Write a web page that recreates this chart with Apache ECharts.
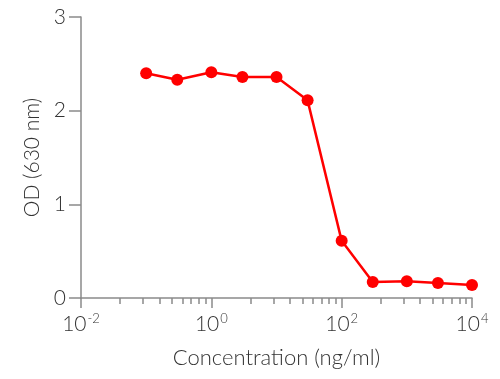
<!DOCTYPE html>
<html>
<head>
<meta charset="utf-8">
<script src="https://cdn.jsdelivr.net/npm/echarts@6/dist/echarts.min.js"></script>
<style>
html,body{margin:0;padding:0;background:#fff;}
#c{width:500px;height:379px;}
</style>
</head>
<body>
<div id="c"></div>
<script>
// Data
const concentrations = [0.1, 0.3, 1, 3, 10, 30, 100, 300, 1000, 3000, 10000];
const odValues = [2.40, 2.33, 2.41, 2.36, 2.36, 2.11, 0.61, 0.17, 0.18, 0.16, 0.14];
const xMajorTicks = [0.01, 1, 100, 10000];
const yTicks = [0, 1, 2, 3];
const minorFactors = [2, 3, 4, 5, 6, 7, 8, 9];

// minor ticks as drawn in the reference (log spacing within each 2-decade span)
const xMinorTicks = [];
for (let i = 0; i < xMajorTicks.length - 1; i++) {
  minorFactors.forEach(k => xMinorTicks.push(xMajorTicks[i] * Math.pow(xMajorTicks[i + 1] / xMajorTicks[i], Math.log10(k))));
}

const FONT = 'Lato';
const TXT = '#333333';
const AX = '#8a8a8a';

const chart = echarts.init(document.getElementById('c'));
chart.setOption({
  animation: false,
  grid: { left: 81, right: 28, top: 17, bottom: 81 },
  xAxis: [{
    type: 'log',
    logBase: 10,
    min: 0.01,
    max: 10000,
    name: 'Concentration (ng/ml)',
    nameLocation: 'middle',
    nameGap: 49,
    nameTextStyle: { fontFamily: FONT, fontWeight: 300, fontSize: 22, color: TXT },
    axisLine: { show: true, lineStyle: { color: AX, width: 1.5 } },
    axisTick: { show: true, length: 10, customValues: xMajorTicks, lineStyle: { color: AX, width: 1.5 } },
    minorTick: { show: false },
    splitLine: { show: false },
    axisLabel: {
      customValues: xMajorTicks,
      margin: 14,
      formatter: function (v) {
        const e = Math.round(Math.log10(v));
        return '{b|10}{e|' + e + '}';
      },
      rich: {
        b: { fontFamily: FONT, fontWeight: 300, fontSize: 21, color: TXT },
        e: { fontFamily: FONT, fontWeight: 300, fontSize: 13, color: TXT, padding: [0, 0, 11, 1] }
      }
    }
  }, {
    type: 'log',
    logBase: 10,
    min: 0.01,
    max: 10000,
    position: 'bottom',
    axisLine: { show: false },
    axisTick: { show: true, length: 6, customValues: xMinorTicks, lineStyle: { color: AX, width: 1.5 } },
    axisLabel: { show: false },
    splitLine: { show: false }
  }],
  yAxis: {
    type: 'value',
    min: 0,
    max: 3,
    interval: 1,
    name: 'OD (630 nm)',
    nameLocation: 'middle',
    nameGap: 38,
    nameTextStyle: { fontFamily: FONT, fontWeight: 300, fontSize: 21, color: TXT },
    axisLine: { show: true, lineStyle: { color: AX, width: 1.5 } },
    axisTick: { show: true, length: 12, lineStyle: { color: AX, width: 1.5 } },
    splitLine: { show: false },
    axisLabel: { margin: 15, fontFamily: FONT, fontWeight: 300, fontSize: 21, color: TXT }
  },
  series: [{
    type: 'line',
    xAxisIndex: 0,
    data: concentrations.map((c, i) => [c, odValues[i]]),
    symbol: 'circle',
    symbolSize: 12,
    itemStyle: { color: '#ff0000' },
    lineStyle: { color: '#ff0000', width: 2.5 }
  }]
});
</script>
</body>
</html>
